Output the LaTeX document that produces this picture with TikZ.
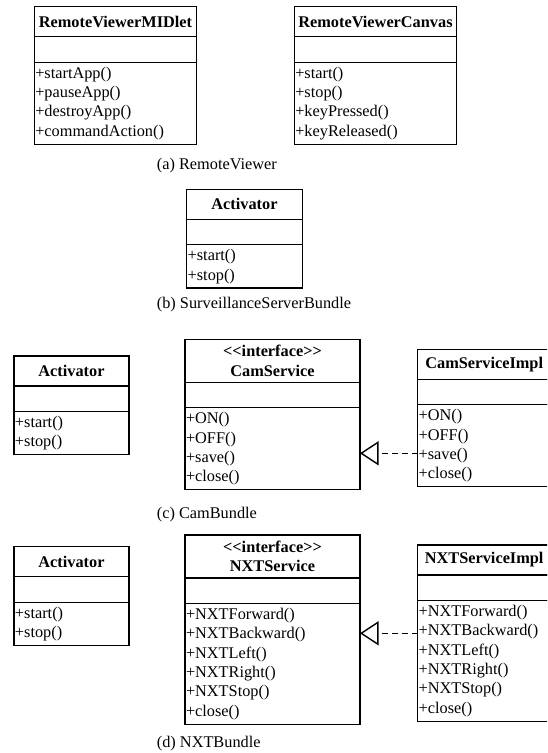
\documentclass[tikz,border=0pt]{standalone}
\usepackage{fontspec}
\setmainfont{Liberation Serif}
\usetikzlibrary{positioning, arrows.meta}
\newcommand{\classfont}{\fontsize{16.3pt}{19.4pt}\selectfont}
\tikzset{
        class-name/.style={
            draw, line width=1.3pt, outer sep=0pt, font=\classfont\bfseries, align=center,
            minimum width=#1, minimum height=30pt, inner sep=0pt, anchor=north west
        },
        class-attr/.style={
            draw, line width=1.3pt, outer sep=0pt, minimum width=#1, minimum height=25.5pt, inner sep=0pt
        },
        class-ops/.style={
            draw, line width=1.3pt, outer sep=0pt, font=\classfont, text width=#1, align=left,
            inner xsep=1pt, inner ysep=4.5pt
        },
        realize/.style={
            line width=1.2pt, dash pattern=on 6pt off 4pt,
            -{Triangle[open, length=18.5pt, width=24pt, line width=1.4pt]}
        },
        caption/.style={anchor=west, inner sep=0pt, font=\classfont},
}

\begin{document}
\begin{tikzpicture}[x=1pt, y=-1pt]

        \useasboundingbox (0,0) rectangle (547,753);
        \clip (0,0) rectangle (547,753);

        % (a) REMOTE VIEWER
        \node[class-name=162.4pt]                               (midletname) at (34.3,6.7)  {RemoteViewerMIDlet};
        \node[class-attr=162.4pt, below=0pt of midletname]      (midletattr)                {};
        \node[class-ops=160.4pt,  below=0pt of midletattr]      (midletops)                 {+startApp()\\+pauseApp()\\+destroyApp()\\+commandAction()};

        \node[class-name=162.4pt]                               (canvasname) at (294.3,6.7) {RemoteViewerCanvas};
        \node[class-attr=162.4pt, below=0pt of canvasname]      (canvasattr)                {};
        \node[class-ops=160.4pt,  below=0pt of canvasattr]      (canvasops)                 {+start()\\+stop()\\+keyPressed()\\+keyReleased()};

        \node[caption]                                          (capa)       at (156.7,166) {(a) RemoteViewer};

        % (b) SURVEILLANCE SERVER BUNDLE
        \node[class-name=115.6pt]                               (actbname)   at (186.7,189.3) {Activator};
        \node[class-attr=115.6pt, below=0pt of actbname]        (actbattr)                  {};
        \node[class-ops=113.6pt,  below=0pt of actbattr]        (actbops)                   {+start()\\+stop()};

        \node[caption]                                          (capb)       at (156.7,304.3) {(b) SurveillanceServerBundle};

        % (c) CAM BUNDLE
        \node[class-name=115pt]                                 (actcname)   at (14,356)    {Activator};
        \node[class-attr=115pt,   below=0pt of actcname]        (actcattr)                  {};
        \node[class-ops=113pt,    below=0pt of actcattr]        (actcops)                   {+start()\\+stop()};

        \node[class-name=175pt, minimum height=43pt]            (camname)    at (185,339.3) {<\kern0pt<interface>\kern0pt>\\CamService};
        \node[class-attr=175pt,   below=0pt of camname]         (camattr)                   {};
        \node[class-ops=173pt,    below=0pt of camattr]         (camops)                    {+ON()\\+OFF()\\+save()\\+close()};

        \node[class-name=133pt]                                 (camimplname) at (417.7,349.3) {CamServiceImpl};
        \node[class-attr=133pt,   below=0pt of camimplname]     (camimplattr)               {};
        \node[class-ops=131pt,    below=0pt of camimplattr]     (camimplops)                {+ON()\\+OFF()\\+save()\\+close()};

        \node[caption]                                          (capc)       at (156.7,515) {(c) CamBundle};

        % (d) NXT BUNDLE
        \node[class-name=115pt]                                 (actdname)   at (14,546.7)  {Activator};
        \node[class-attr=115pt,   below=0pt of actdname]        (actdattr)                  {};
        \node[class-ops=113pt,    below=0pt of actdattr]        (actdops)                   {+start()\\+stop()};

        \node[class-name=175pt, minimum height=43pt]            (nxtname)    at (185,535)   {<\kern0pt<interface>\kern0pt>\\NXTService};
        \node[class-attr=175pt,   below=0pt of nxtname]         (nxtattr)                   {};
        \node[class-ops=173pt,    below=0pt of nxtattr]         (nxtops)                    {+NXTForward()\\+NXTBackward()\\+NXTLeft()\\+NXTRight()\\+NXTStop()\\+close()};

        \node[class-name=133pt]                                 (nxtimplname) at (417.7,545) {NXTServiceImpl};
        \node[class-attr=133pt,   below=0pt of nxtimplname]     (nxtimplattr)               {};
        \node[class-ops=131pt,    below=0pt of nxtimplattr]     (nxtimplops)                {+NXTForward()\\+NXTBackward()\\+NXTLeft()\\+NXTRight()\\+NXTStop()\\+close()};

        \node[caption]                                          (capd)       at (156.7,744) {(d) NXTBundle};

        % REALIZATIONS
        \draw [realize] ([yshift=-7.5pt]camimplops.west) -- ([yshift=-7.5pt]camimplops.west -| camops.east);
        \draw [realize] ([yshift=27.6pt]nxtimplops.west) -- ([yshift=27.6pt]nxtimplops.west -| nxtops.east);

\end{tikzpicture}
\end{document}
